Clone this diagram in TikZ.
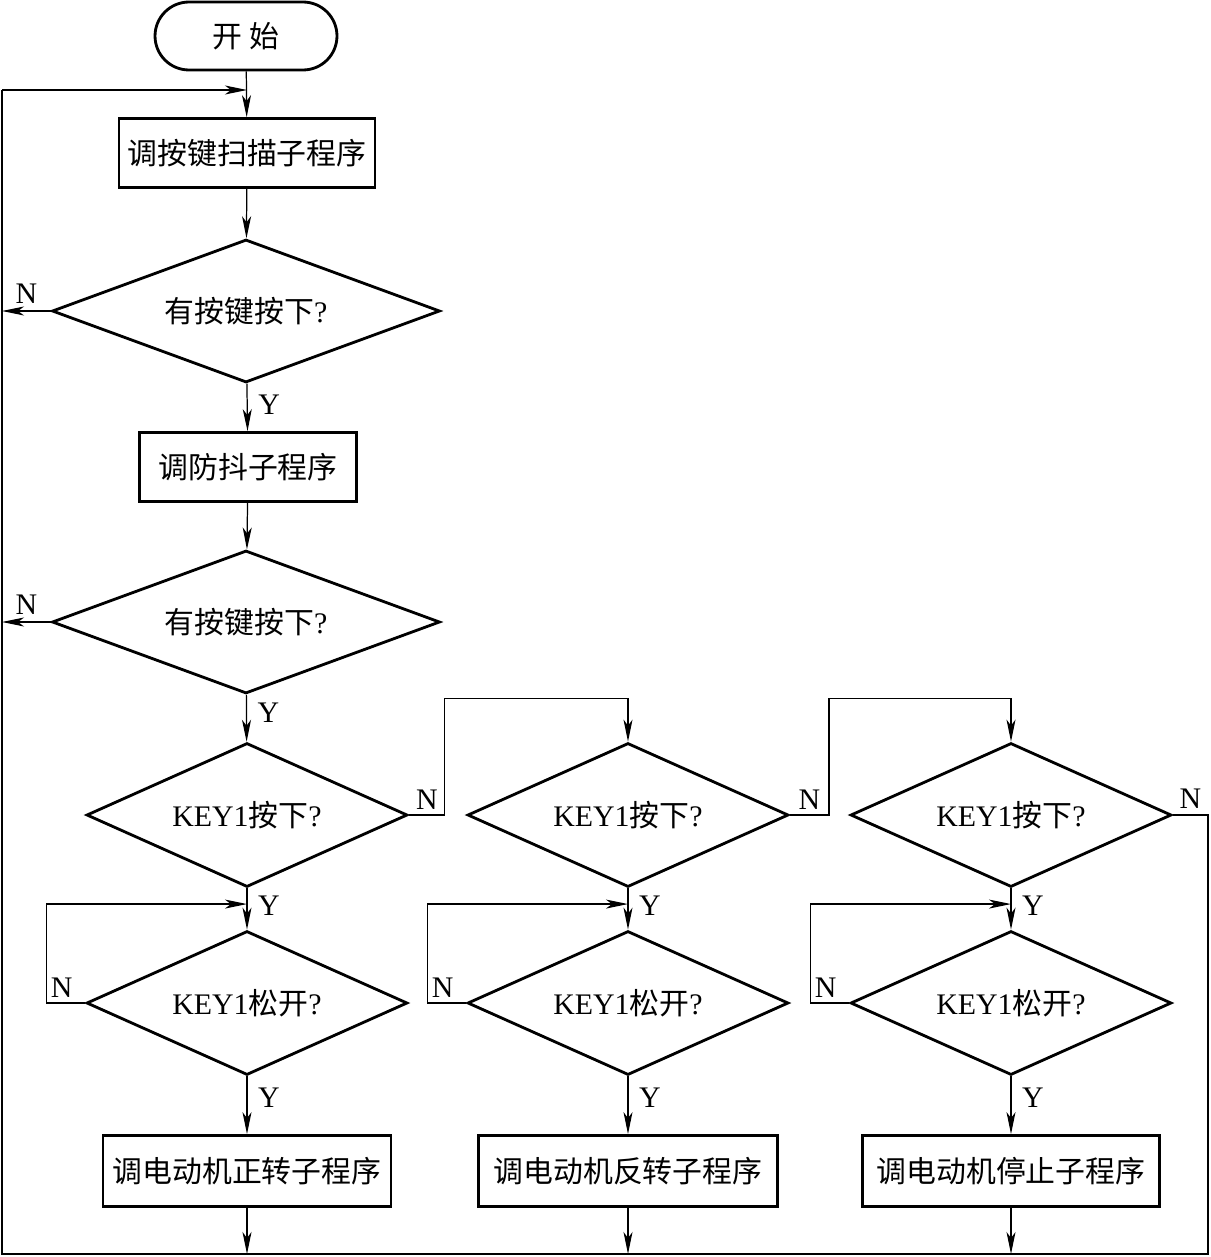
\documentclass[tikz,border=0pt]{standalone}
\usepackage{fontspec}
\setmainfont{Liberation Serif}
\newfontfamily\cjk{Noto Sans CJK SC}
\usepackage{tikz}
\usetikzlibrary{shapes.geometric, arrows.meta, positioning, calc}
\tikzset{
	startstop/.style={rectangle, rounded corners=0.68cm, minimum width=3.64cm, minimum height=1.36cm, text centered, draw=black, line width=1.6pt},
	process/.style  ={rectangle, minimum height=1.38cm, text centered, draw=black, line width=1.6pt, inner sep=0pt},
	decision/.style ={diamond, aspect=2.7, minimum width=7.76cm, minimum height=2.86cm, text centered, draw=black, line width=1.6pt, inner sep=0pt},
	keydec/.style   ={decision, aspect=2.2, minimum width=6.42cm, minimum height=2.88cm},
	flowarrow/.style={-{Stealth[length=4.4mm, width=1.8mm, inset=1.2mm]}, line width=0.7pt},
	flowline/.style ={line width=0.9pt},
	lbl/.style      ={inner sep=1pt},
}

\begin{document}
\begin{tikzpicture}[x=0.02cm, y=-0.02cm, font=\fontsize{17}{20}\selectfont]
	\useasboundingbox (0,0) rectangle (1210,1257);
	% outer return path
	\coordinate (bl) at (2,1254);
	\coordinate (br) at (1208,1254);
	\coordinate (entry) at (247,90);
	% main column
	\node[startstop] (start) at (246,36) {\cjk 开\ 始};
	\node[process, minimum width=5.12cm] (scan) at (247,153) {\cjk 调按键扫描子程序};
	\node[decision] (press) at (246,311) {{\cjk 有按键按下}?};
	\node[process, minimum width=4.34cm] (debounce) at (248,467) {\cjk 调防抖子程序};
	\node[decision] (confirm) at (246,622) {{\cjk 有按键按下}?};
	\draw[flowarrow] (start) -- (scan);
	\draw[flowarrow] (scan) -- (press);
	\draw[flowarrow] (press) -- node[lbl, pos=0.44, right=5pt] {Y} (debounce);
	\draw[flowarrow] (debounce) -- (confirm);
	\draw[flowarrow] (press.west) -- node[lbl, above=3pt] {N} (press -| bl);
	\draw[flowarrow] (confirm.west) -- node[lbl, above=3pt] {N} (confirm -| bl);
	% three key columns
	\foreach \i/\x/\w/\txt in {1/247/5.76/正转, 2/628/5.98/反转, 3/1011/5.94/停止} {
		\node[keydec] (down\i) at (\x,815) {KEY1{\cjk 按下}?};
		\node[keydec] (up\i) at (\x,1003) {KEY1{\cjk 松开}?};
		\node[process, minimum width=\w cm, minimum height=1.42cm] (motor\i) at (\x,1171) {\cjk 调电动机\txt 子程序};
		\coordinate (wait\i) at ($(down\i.south)!0.38!(up\i.north)$);
		\draw[flowarrow] (down\i) -- node[lbl, pos=0.42, right=5pt] {Y} (up\i);
		\draw[flowarrow] (up\i.west) -- node[lbl, pos=0.6, above=2pt] {N} ++(-39,0) |- (wait\i);
		\draw[flowarrow] (up\i) -- node[lbl, pos=0.37, right=5pt] {Y} (motor\i);
		\draw[flowarrow] (motor\i) -- (motor\i |- bl);
	}
	\draw[flowarrow] (confirm) -- node[lbl, pos=0.39, right=5pt] {Y} (down1);
	\draw[flowarrow] (down1.east) -- node[lbl, above=2pt] {N} ++(36,0) |- ($(down2.north)+(0,-43)$) -- (down2.north);
	\draw[flowarrow] (down2.east) -- node[lbl, above=2pt] {N} ++(39,0) |- ($(down3.north)+(0,-43)$) -- (down3.north);
	\draw[flowline] (down3.east) -- node[lbl, above=2pt] {N} (down3 -| br) -- (br) -- (bl) -- (entry -| bl);
	\draw[flowarrow] (entry -| bl) -- (entry);
\end{tikzpicture}
\end{document}
